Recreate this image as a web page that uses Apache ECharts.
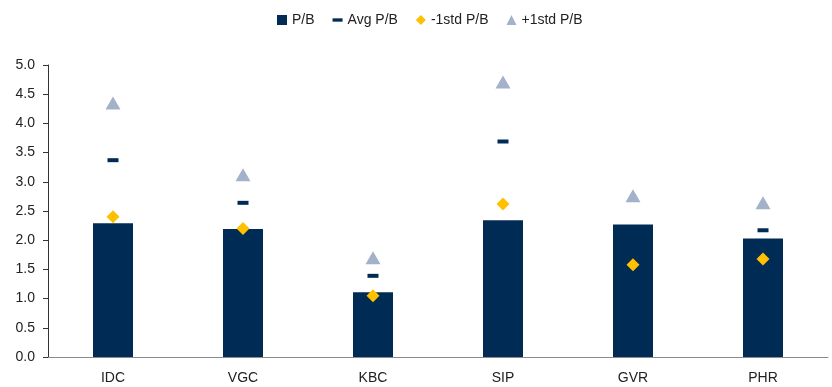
<!DOCTYPE html>
<html lang="en">
  <head>
    <meta charset="UTF-8" />
    <title>P/B</title>
    <script src="https://cdn.jsdelivr.net/npm/echarts@6/dist/echarts.min.js"></script>
    <style>
      html, body { margin: 0; padding: 0; background: #fff; }
    </style>
  </head>
  <body>
    <div id="main" style="width: 832px; height: 387px;"></div>
    <script type="text/javascript">
      // data
      var tickers = ["IDC", "VGC", "KBC", "SIP", "GVR", "PHR"];
      var pb = [2.29, 2.19, 1.11, 2.34, 2.27, 2.03];
      var avgPb = [3.37, 2.64, 1.39, 3.69, "-", 2.17];
      var minusStd = [2.40, 2.20, 1.05, 2.62, 1.58, 1.68];
      var plusStd = [4.35, 3.12, 1.70, 4.71, 2.76, 2.64];

      var navy = "#002B55";
      var txt = "#222222";
      var font = "Liberation Sans";

      var myChart = echarts.init(document.getElementById("main"));

      var option = {
        animation: false,
        textStyle: { fontFamily: font },
        legend: {
          top: 8,
          left: 272,
          itemWidth: 10,
          itemHeight: 10,
          itemGap: 18,
          textStyle: { fontSize: 14, color: txt, fontFamily: font },
          data: [
            { name: "P/B", icon: "rect" },
            { name: "Avg P/B", icon: "path://M0,4 h12 v4 h-12 z" },
            { name: "-1std P/B", icon: "path://M4,0 L8,4 L4,8 L0,4 z" },
            { name: "+1std P/B", icon: "triangle" },
          ],
        },
        grid: { left: 48, right: 4, top: 65, bottom: 30 },
        xAxis: {
          type: "category",
          data: tickers,
          axisLine: { lineStyle: { color: "#8c8c8c", width: 1 } },
          axisTick: { inside: true, length: 4, lineStyle: { color: "#333" } },
          axisLabel: { fontSize: 14, color: txt, margin: 14 },
        },
        yAxis: {
          type: "value",
          min: 0,
          max: 5,
          interval: 0.5,
          splitLine: { show: false },
          axisLine: { show: true, lineStyle: { color: "#333" } },
          axisTick: { show: true, length: 5, lineStyle: { color: "#333" } },
          axisLabel: {
            fontSize: 14,
            color: txt,
            margin: 13,
            formatter: function (v) { return v.toFixed(1); },
          },
        },
        series: [
          {
            name: "P/B",
            type: "bar",
            data: pb,
            barWidth: 40,
            itemStyle: { color: navy },
            z: 1,
          },
          {
            name: "Avg P/B",
            type: "scatter",
            data: avgPb,
            symbol: "rect",
            symbolSize: [11, 4],
            itemStyle: { color: navy, opacity: 1 },
            z: 3,
          },
          {
            name: "-1std P/B",
            type: "scatter",
            data: minusStd,
            symbol: "diamond",
            symbolSize: [13, 13],
            itemStyle: { color: "#FFC000", opacity: 1 },
            z: 3,
          },
          {
            name: "+1std P/B",
            type: "scatter",
            data: plusStd,
            symbol: "triangle",
            symbolSize: [15, 13],
            itemStyle: { color: "#A3B1CA", opacity: 1 },
            z: 3,
          },
        ],
      };

      myChart.setOption(option);
    </script>
  </body>
</html>
